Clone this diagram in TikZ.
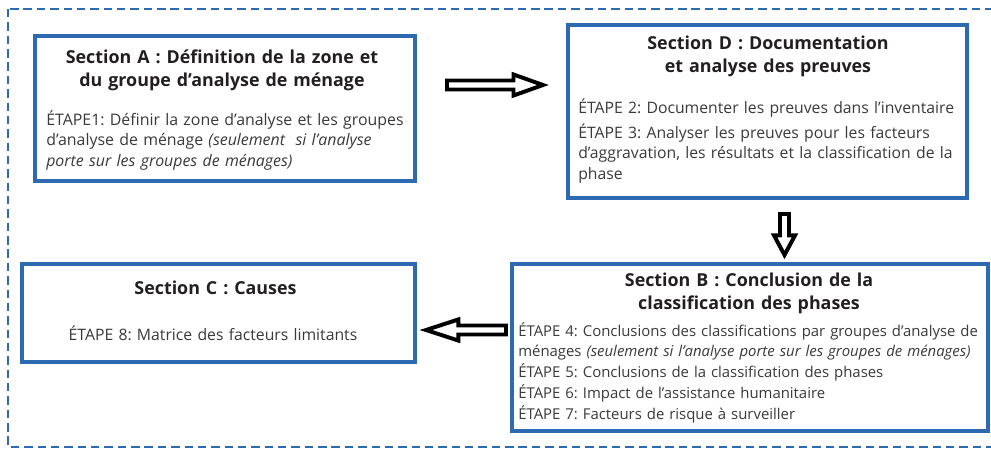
\documentclass[tikz,border=0pt]{standalone}
\usepackage{fontspec}
\setmainfont{Open Sans}
\usepackage{tikz}
\usetikzlibrary{calc}

\definecolor{ipcblue}{RGB}{46,106,178}
\definecolor{txtgray}{RGB}{58,58,58}
\definecolor{ttlblack}{RGB}{35,31,32}
\frenchspacing

\begin{document}
\begin{tikzpicture}[
			x=0.025cm, y=-0.025cm,
			secbox/.style={
				rectangle,
				draw=ipcblue,
				line width=2.8pt,
				fill=white,
				inner sep=0pt
			},
			sectitle/.style={
				anchor=base,
				text width=11cm,
				align=center,
				inner sep=0pt,
				text=ttlblack,
				font=\bfseries\fontsize{12.7}{16.4}\selectfont
			},
			stepbody/.style={
				anchor=base west,
				text width=12cm,
				align=left,
				inner sep=0pt,
				text=txtgray,
				font=\fontsize{#1}{14.8}\selectfont
			},
			stepbody/.default=11.2,
			outerframe/.style={draw=ipcblue, line width=1.5pt, dash pattern=on 6pt off 3.5pt},
			hollow/.style={
				draw=black, fill=white, line width=2.8pt,
				to path={
					($(\tikztostart)!3.2pt!90:(\tikztotarget)$)
					-- ($(\tikztotarget)!#1!(\tikztostart)!3.2pt!90:(\tikztotarget)$)
					-- ($(\tikztotarget)!#1!(\tikztostart)!7.5pt!90:(\tikztotarget)$)
					-- (\tikztotarget)
					-- ($(\tikztotarget)!#1!(\tikztostart)!7.5pt!-90:(\tikztotarget)$)
					-- ($(\tikztotarget)!#1!(\tikztostart)!3.2pt!-90:(\tikztotarget)$)
					-- ($(\tikztostart)!3.2pt!-90:(\tikztotarget)$)
					-- cycle
				}
			},
			hollow/.default=21pt
			]
			\useasboundingbox (0,0) rectangle (991,450);
			\draw[outerframe] (8,9) rectangle (998,447);

			% the four sections
			\node[secbox, minimum width=9.5cm, minimum height=3.625cm] (secA) at (225,108.5) {};
			\node[secbox, minimum width=9.975cm, minimum height=4.325cm] (secD) at (767.5,111.5) {};
			\node[secbox, minimum width=9.825cm, minimum height=2.45cm] (secC) at (218.5,313) {};
			\node[secbox, minimum width=11.9cm, minimum height=4.175cm] (secB) at (750,347.5) {};

			\node[sectitle] (titleA) at (222,63) {Section A : Définition de la zone et\\du groupe d’analyse de ménage};
			\node[stepbody=11.3] (stepsA) at (46,125) {ÉTAPE1: Définir la zone d’analyse et les groupes\\
				d’analyse de ménage \textit{(seulement~~si l’analyse}\\
				\textit{porte sur les groupes de ménages)}};

			\node[sectitle] (titleD) at (768,49) {Section D : Documentation\\et analyse des preuves};
			\node[stepbody] (stepsD) at (578,113) {ÉTAPE 2: Documenter les preuves dans l’inventaire\\[3pt]
				ÉTAPE 3: Analyser les preuves pour les facteurs\\
				d’aggravation, les résultats et la classification de la\\
				phase};

			\node[sectitle] (titleC) at (215.5,294) {Section C : Causes};
			\node[stepbody, anchor=base, align=center] (stepsC) at (213,340) {ÉTAPE 8: Matrice des facteurs limitants};

			\node[sectitle] (titleB) at (749,286) {Section B : Conclusion de la\\classification des phases};
			\node[stepbody=10.6] (stepsB) at (518,336) {ÉTAPE 4: Conclusions des classifications par groupes d’analyse de\\
				ménages \textit{(seulement si l’analyse porte sur les groupes de ménages)}\\
				ÉTAPE 5: Conclusions de la classification des phases\\
				ÉTAPE 6: Impact de l’assistance humanitaire\\
				ÉTAPE 7: Facteurs de risque à surveiller};

			% arrows between sections
			\coordinate (ad-s) at (447,85);
			\coordinate (ad-e) at (543,85);
			\coordinate (db-s) at (784.5,214);
			\coordinate (db-e) at (784.5,255);
			\coordinate (bc-s) at (506,330);
			\coordinate (bc-e) at (426,330);

			\draw[hollow] (ad-s) to (ad-e);
			\draw[hollow=14pt] (db-s) to (db-e);
			\draw[hollow=23pt] (bc-s) to (bc-e);
		\end{tikzpicture}
\end{document}
